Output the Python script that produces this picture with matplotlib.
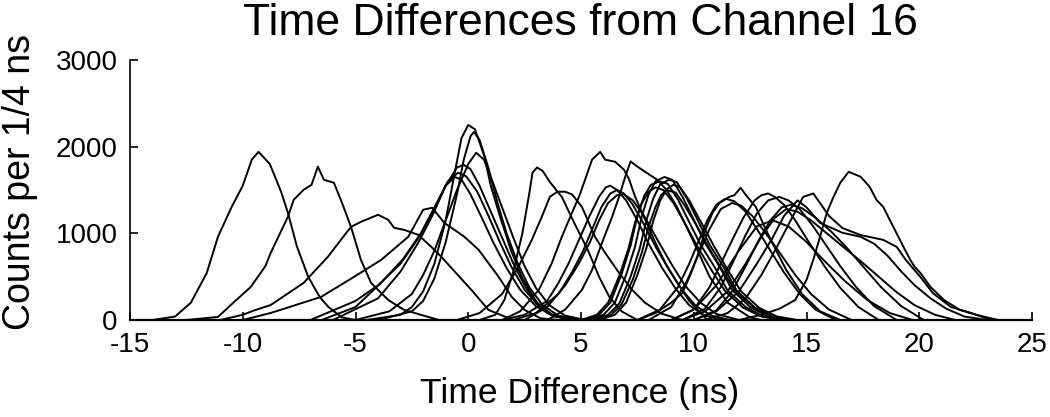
import matplotlib
matplotlib.use("Agg")
import matplotlib.pyplot as plt

plt.rcParams['font.family'] = ['Liberation Sans', 'DejaVu Sans']
plt.rcParams['axes.unicode_minus'] = False

# Histogram traces: (time in ns, counts per 1/4 ns)
# group left of zero
neg_traces = [
    ([-14, -13, -12.3, -11.6, -11.1, -10.5, -10, -9.6, -9.3, -8.8, -8.3, -8, -7.6, -7.1, -6.6, -6.2, -5.6, -5],
     [0, 40, 200, 540, 960, 1300, 1550, 1850, 1940, 1800, 1480, 1240, 850, 500, 270, 150, 30, 0]),
    ([-12.5, -11.1, -10.5, -9.65, -9, -8.76, -8, -7.74, -7.3, -6.95, -6.67, -6.4, -5.96, -5.65, -5.2, -4.76, -4.31, -3.55, -2.84, -2.08, -1.3],
     [0, 35, 180, 380, 620, 774, 1190, 1387, 1503, 1560, 1769, 1618, 1584, 1387, 1075, 694, 428, 231, 116, 58, 0]),
    ([-11, -10, -9.5, -8.76, -7.3, -6.23, -5.2, -4.76, -4.0, -3.55, -3.29, -2.84, -2.22, -1.64, -1.19, 0.14, 0.9, 2.0],
     [0, 60, 110, 173, 428, 728, 1075, 1133, 1214, 1156, 1064, 1040, 983, 844, 728, 347, 116, 0]),
    ([-10, -8.76, -6.53, -5.07, -3.86, -2.66, -2.0, -1.6, -1.06, -0.17, 0.46, 1.35, 1.93, 2.5, 3.2, 4],
     [0, 81, 266, 497, 694, 960, 1272, 1295, 1121, 960, 810, 497, 266, 116, 20, 0]),
]

# cluster around zero
zero_traces = [
    ([-4.5, -3, -2.5, -2, -1.5, -1, -0.6, -0.3, 0, 0.3, 0.7, 1.0, 1.4, 1.9, 2.4, 3, 3.5, 4.5],
     [0, 60, 150, 330, 650, 1150, 1700, 2100, 2250, 2200, 1900, 1550, 1200, 800, 480, 220, 80, 0]),
    ([-4, -2.5, -2, -1.5, -1, -0.5, -0.2, 0.1, 0.25, 0.5, 0.9, 1.3, 1.7, 2.2, 2.7, 3.3, 4, 5],
     [0, 100, 220, 480, 900, 1450, 1850, 2120, 2170, 2080, 1750, 1350, 1000, 650, 380, 170, 50, 0]),
    ([-5, -3.5, -2.5, -2, -1.5, -1, -0.5, 0, 0.35, 0.7, 1.1, 1.5, 2, 2.5, 3, 3.6, 4.3, 5.2],
     [0, 100, 300, 520, 800, 1150, 1500, 1800, 1930, 1850, 1580, 1300, 950, 620, 370, 170, 50, 0]),
    ([-6, -4, -3, -2.2, -1.6, -1, -0.5, -0.2, 0.1, 0.5, 1, 1.5, 2, 2.5, 3, 3.7, 4.5],
     [0, 250, 560, 900, 1200, 1550, 1760, 1790, 1740, 1550, 1250, 950, 650, 400, 200, 60, 0]),
    ([-6.5, -5, -3.9, -2.9, -2.1, -1.5, -0.9, -0.45, -0.1, 0.4, 0.9, 1.4, 1.9, 2.5, 3.1, 3.8, 4.6],
     [0, 150, 420, 700, 1000, 1300, 1600, 1700, 1660, 1480, 1200, 900, 620, 350, 170, 50, 0]),
    ([-7, -5, -4, -3, -2.2, -1.5, -1, -0.6, -0.3, 0.1, 0.6, 1.1, 1.7, 2.3, 3, 3.8, 4.8],
     [0, 220, 400, 650, 950, 1280, 1550, 1650, 1620, 1450, 1180, 900, 600, 350, 160, 40, 0]),
]

# 3 to 9 ns
mid_traces = [
    ([0.5, 1.2, 1.6, 2.0, 2.4, 2.7, 2.85, 3.05, 3.3, 3.6, 3.9, 4.15, 4.7, 5.3, 5.8, 6.25, 6.8, 7.5],
     [0, 60, 230, 560, 1000, 1450, 1700, 1760, 1720, 1600, 1500, 1420, 1120, 810, 500, 270, 100, 0]),
    ([-0.5, 0.5, 1.5, 2.2, 2.82, 3.26, 3.62, 3.95, 4.3, 4.6, 5.04, 5.62, 6.07, 6.69, 7.27, 7.85, 8.6, 9.5],
     [0, 80, 300, 600, 925, 1190, 1422, 1480, 1480, 1450, 1306, 960, 775, 543, 347, 197, 70, 0]),
    ([1.5, 2.3, 3.13, 3.71, 4.15, 4.6, 4.91, 5.18, 5.49, 5.85, 6.07, 6.51, 6.91, 7.14, 7.4, 7.85, 8.3, 8.74, 9.19, 9.8, 10.6],
     [0, 100, 347, 659, 960, 1237, 1422, 1618, 1850, 1940, 1850, 1826, 1734, 1618, 1422, 1156, 890, 659, 462, 220, 0]),
    ([3.5, 4.3, 5.04, 5.49, 5.93, 6.38, 6.69, 6.96, 7.2, 7.5, 7.9, 8.37, 8.8, 9.25, 10, 10.7, 11.5, 12.5, 13],
     [0, 120, 347, 578, 890, 1190, 1422, 1653, 1830, 1770, 1700, 1620, 1500, 1306, 900, 500, 200, 30, 0]),
    ([1.5, 2.5, 3.5, 4.0, 4.46, 4.91, 5.36, 5.8, 6.1, 6.3, 6.6, 7, 7.5, 8, 8.6, 9.2, 9.8, 10.5, 11.3],
     [0, 60, 220, 428, 659, 925, 1190, 1422, 1530, 1550, 1500, 1380, 1150, 880, 600, 360, 170, 50, 0]),
    ([2, 3, 4, 4.6, 5.1, 5.5, 5.9, 6.3, 6.6, 6.9, 7.3, 7.8, 8.3, 8.9, 9.5, 10.1, 10.8, 11.6],
     [0, 80, 300, 550, 800, 1050, 1300, 1460, 1500, 1460, 1330, 1100, 850, 580, 340, 160, 50, 0]),
    ([2.5, 3.5, 4.3, 4.9, 5.4, 5.8, 6.2, 6.6, 6.9, 7.3, 7.8, 8.4, 9, 9.6, 10.3, 11, 12],
     [0, 150, 400, 650, 900, 1150, 1350, 1440, 1450, 1380, 1200, 920, 650, 400, 200, 70, 0]),
]

# bundle near 8.5 ns
bundle_traces = [
    ([5.3, 6.0, 6.5, 7.0, 7.4, 7.7, 8.0, 8.3, 8.7, 9.05, 9.5, 9.94, 10.5, 11.15, 11.7, 12.5, 13.3, 14.2],
     [0, 60, 200, 520, 850, 1200, 1450, 1600, 1650, 1618, 1422, 1190, 890, 613, 347, 150, 40, 0]),
    ([5.5, 6.2, 6.7, 7.2, 7.6, 7.9, 8.2, 8.5, 8.9, 9.25, 9.7, 10.14, 10.7, 11.35, 11.9, 12.7, 13.5, 14.4],
     [0, 60, 190, 500, 820, 1150, 1400, 1560, 1620, 1590, 1400, 1170, 870, 600, 340, 145, 40, 0]),
    ([5.1, 5.8, 6.3, 6.8, 7.2, 7.5, 7.8, 8.1, 8.5, 8.85, 9.3, 9.74, 10.3, 10.95, 11.5, 12.3, 13.1, 14.0],
     [0, 60, 200, 530, 860, 1200, 1430, 1560, 1600, 1570, 1390, 1160, 870, 600, 340, 150, 40, 0]),
    ([5.8, 6.5, 7.0, 7.5, 7.9, 8.2, 8.5, 8.8, 9.1, 9.4, 9.8, 10.3, 10.9, 11.5, 12.1, 12.9, 13.7, 14.6],
     [0, 60, 200, 520, 830, 1140, 1370, 1510, 1560, 1530, 1380, 1140, 850, 580, 330, 140, 40, 0]),
    ([5.0, 5.7, 6.2, 6.7, 7.1, 7.4, 7.7, 8.0, 8.3, 8.65, 9.1, 9.6, 10.2, 10.8, 11.4, 12.2, 13, 13.9],
     [0, 60, 200, 510, 820, 1130, 1350, 1480, 1530, 1500, 1350, 1120, 830, 570, 330, 140, 40, 0]),
    ([5.6, 6.3, 6.8, 7.3, 7.7, 8.0, 8.3, 8.55, 8.8, 9.2, 9.6, 10.1, 10.7, 11.3, 11.9, 12.7, 13.5, 14.4],
     [0, 50, 180, 470, 780, 1080, 1300, 1440, 1500, 1470, 1320, 1100, 820, 560, 320, 140, 40, 0]),
]

# 11 to 17 ns
right_traces = [
    ([7.5, 8.3, 9.0, 9.5, 9.94, 10.26, 10.52, 10.83, 11.15, 11.59, 11.8, 12.08, 12.3, 12.75, 13.2, 13.64, 14.1, 14.8, 15.6, 16.5],
     [0, 80, 200, 312, 578, 809, 1040, 1237, 1352, 1422, 1440, 1526, 1445, 1306, 1040, 809, 578, 300, 100, 0]),
    ([7.5, 8.5, 9.3, 9.8, 10.2, 10.6, 11.0, 11.4, 11.8, 12.3, 12.8, 13.4, 14.0, 14.7, 15.4, 16.3],
     [0, 120, 380, 650, 900, 1150, 1330, 1400, 1370, 1250, 1050, 800, 550, 300, 120, 0]),
    ([8, 9, 9.7, 10.2, 10.7, 11.2, 11.7, 12.1, 12.6, 13.2, 13.8, 14.5, 15.2, 16, 17],
     [0, 150, 450, 750, 1050, 1280, 1350, 1320, 1200, 1000, 780, 520, 300, 120, 0]),
    ([9, 10, 10.7, 11.2, 11.7, 12.2, 12.7, 13.0, 13.3, 13.6, 14.0, 14.5, 15.1, 15.8, 16.5, 17.3, 18.2],
     [0, 120, 380, 650, 920, 1180, 1380, 1440, 1460, 1420, 1330, 1150, 900, 620, 370, 150, 0]),
    ([9.5, 10.5, 11.2, 11.8, 12.3, 12.8, 13.3, 13.8, 14.2, 14.7, 15.3, 15.9, 16.5, 17.2, 18, 19],
     [0, 130, 380, 700, 980, 1230, 1380, 1420, 1380, 1280, 1080, 850, 620, 380, 160, 0]),
    ([10, 11, 11.7, 12.3, 12.9, 13.4, 13.9, 14.3, 14.8, 15.4, 16.1, 16.8, 17.5, 18.3, 19.2, 20.2],
     [0, 110, 330, 620, 930, 1150, 1300, 1330, 1290, 1180, 1020, 830, 620, 380, 160, 0]),
    ([10.5, 11.5, 12.3, 13, 13.6, 14.1, 14.5, 14.85, 15.3, 15.6, 16.0, 16.6, 17.4, 18.4, 19.0, 19.4, 20.05, 20.6, 21.4, 22.3, 23.2],
     [0, 80, 250, 520, 800, 1050, 1250, 1420, 1460, 1350, 1200, 1060, 980, 925, 844, 694, 497, 312, 150, 81, 0]),
    ([10, 11, 12, 12.8, 13.5, 14.0, 14.6, 15.0, 15.6, 16.6, 17.4, 18, 18.6, 19.2, 19.8, 20.5, 21.2, 22, 23],
     [0, 100, 330, 650, 950, 1200, 1380, 1300, 1121, 1006, 960, 880, 740, 560, 400, 250, 130, 40, 0]),
    ([9.5, 10.5, 11.5, 12.3, 13, 13.6, 14.1, 14.6, 15.2, 15.9, 16.6, 17.4, 18.2, 19, 19.8, 20.7, 21.6],
     [0, 100, 330, 650, 960, 1180, 1280, 1250, 1150, 1000, 850, 680, 500, 320, 170, 60, 0]),
    ([9, 10, 11, 12, 12.8, 13.5, 14.2, 15, 15.8, 16.7, 17.7, 18.7, 19.7],
     [0, 120, 400, 800, 1080, 1150, 1080, 900, 680, 450, 230, 80, 0]),
    ([12, 13, 13.8, 14.5, 15.0, 15.3, 15.6, 15.9, 16.2, 16.5, 16.87, 17.4, 17.8, 18.1, 18.4, 18.85, 19.3, 19.6, 19.8, 20.05, 20.5, 21.1, 21.8, 22.55, 23.5],
     [0, 60, 130, 231, 462, 694, 960, 1237, 1422, 1584, 1710, 1653, 1537, 1387, 1306, 1075, 844, 694, 613, 543, 381, 231, 116, 58, 0]),
]

x_ticks = [-15, -10, -5, 0, 5, 10, 15, 20, 25]
y_ticks = [0, 1000, 2000, 3000]

fig = plt.figure(figsize=(10.5, 4.17), dpi=100)
ax = fig.add_axes([130 / 1050, 1 - 320 / 417, 902 / 1050, 260 / 417])

for group in (neg_traces, zero_traces, mid_traces, bundle_traces, right_traces):
    for xs, ys in group:
        ax.plot(xs, ys, color='black', linewidth=1.4)

ax.set_xlim(-15, 25)
ax.set_ylim(0, 3000)
ax.set_xticks(x_ticks)
ax.set_yticks(y_ticks)
ax.spines['top'].set_visible(False)
ax.spines['right'].set_visible(False)
ax.spines['left'].set_linewidth(1.2)
ax.spines['bottom'].set_linewidth(1.6)
ax.tick_params(direction='in', length=6, width=1.2, labelsize=20, pad=9)

fig.text(580 / 1050, 1 - 393 / 417, 'Time Difference (ns)', ha='center', va='center', fontsize=25.5)
fig.text(20 / 1050, 1 - 182 / 417, 'Counts per 1/4 ns', ha='center', va='center',
         rotation=90, fontsize=27)
fig.text(580 / 1050, 1 - 35 / 417, 'Time Differences from Channel 16', ha='center', va='baseline',
         fontsize=32)

fig.savefig('out.png', dpi=100)
